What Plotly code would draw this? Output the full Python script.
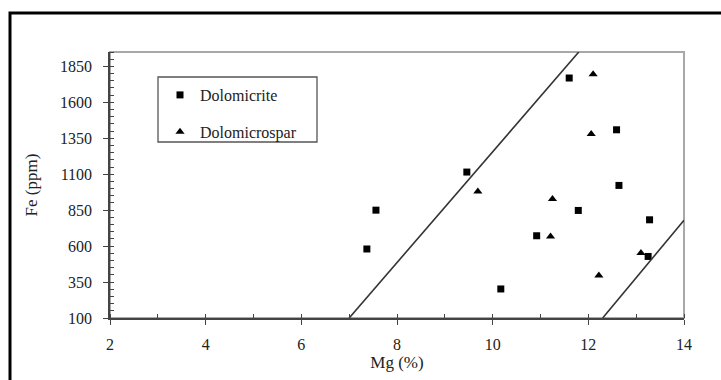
import plotly.graph_objects as go

# Data
dolomicrite_mg = [7.37, 7.56, 9.46, 10.17, 10.92, 11.60, 11.79, 12.59, 12.64, 13.28, 13.25]
dolomicrite_fe = [580, 850, 1115, 302, 672, 1769, 848, 1409, 1022, 783, 528]
dolomicrospar_mg = [9.69, 11.25, 11.21, 12.10, 12.06, 13.10, 12.22]
dolomicrospar_fe = [980, 927, 667, 1795, 1380, 552, 396]
boundary1_mg = [7.0, 11.8]
boundary1_fe = [100, 1950]
boundary2_mg = [12.3, 14.0]
boundary2_fe = [100, 780]
x_ticks = [2, 4, 6, 8, 10, 12, 14]
y_ticks = [100, 350, 600, 850, 1100, 1350, 1600, 1850]

W, H = 721, 380
L, R, T, B = 110, 37, 52, 62
pw, ph = W - L - R, H - T - B

def px_x(p):
    return (p - L) / pw

def px_y(p):
    return (H - B - p) / ph

FONT = "Liberation Serif, Times New Roman, serif"
TXT = "#222222"

fig = go.Figure()
fig.add_trace(go.Scatter(x=boundary1_mg, y=boundary1_fe, mode="lines", xaxis="x2", yaxis="y2",
                         line=dict(color="#333333", width=1.6), showlegend=False, hoverinfo="skip"))
fig.add_trace(go.Scatter(x=boundary2_mg, y=boundary2_fe, mode="lines", xaxis="x2", yaxis="y2",
                         line=dict(color="#333333", width=1.6), showlegend=False, hoverinfo="skip"))
fig.add_trace(go.Scatter(x=dolomicrite_mg, y=dolomicrite_fe, mode="markers", name="Dolomicrite",
                         legendgroup="a",
                         marker=dict(symbol="square", size=7, color="black")))
fig.add_trace(go.Scatter(x=dolomicrospar_mg, y=dolomicrospar_fe, mode="markers", name="Dolomicrospar",
                         legendgroup="b",
                         marker=dict(symbol="triangle-up", size=8, color="black")))

axis_common = dict(showgrid=False, zeroline=False, linecolor="#444444", linewidth=1.5,
                   tickcolor="#444444", tickwidth=1.2,
                   tickfont=dict(family=FONT, size=16, color=TXT))

fig.update_layout(
    width=W, height=H,
    margin=dict(l=L, r=R, t=T, b=B),
    font=dict(family=FONT, color=TXT),
    paper_bgcolor="white", plot_bgcolor="white",
    xaxis=dict(range=[2, 14], tickvals=x_ticks, ticks="outside", ticklen=5,
               ticklabelstandoff=6,
               minor=dict(ticks="inside", ticklen=4, dtick=1, tick0=2, tickcolor="#444444", showgrid=False),
               title=dict(text="Mg (%)", font=dict(family=FONT, size=17, color=TXT), standoff=0),
               **axis_common),
    yaxis=dict(range=[100, 1950], tickvals=y_ticks, ticks="outside", ticklen=5,
               ticklabelstandoff=8,
               minor=dict(ticks="inside", ticklen=4, dtick=50, tick0=100, tickcolor="#444444", showgrid=False),
               title=dict(text="Fe (ppm)", font=dict(family=FONT, size=17, color=TXT), standoff=18),
               **axis_common),
    xaxis2=dict(matches="x", overlaying="x", anchor="y", side="bottom", range=[2, 14],
                tickvals=x_ticks, ticks="inside", ticklen=4, tickcolor="#444444", tickwidth=1.2,
                showticklabels=False, showgrid=False, zeroline=False, showline=False),
    yaxis2=dict(matches="y", overlaying="y", anchor="x", side="left", range=[100, 1950],
                tickvals=y_ticks, ticks="inside", ticklen=4, tickcolor="#444444", tickwidth=1.2,
                showticklabels=False, showgrid=False, zeroline=False, showline=False),
    legend=dict(x=px_x(160), y=px_y(78), xanchor="left", yanchor="top",
                bgcolor="rgba(0,0,0,0)", borderwidth=0,
                font=dict(family=FONT, size=16, color=TXT),
                traceorder="grouped", tracegroupgap=13, itemwidth=30),
    showlegend=True,
    shapes=[
        dict(type="rect", xref="paper", yref="paper", x0=0, y0=0, x1=1, y1=1,
             line=dict(color="#a8a8a8", width=2), layer="below"),
        dict(type="rect", xref="paper", yref="paper", x0=px_x(158), x1=px_x(317),
             y0=px_y(142), y1=px_y(77), line=dict(color="#555555", width=1.3),
             fillcolor="white", layer="below"),
        dict(type="rect", xref="paper", yref="paper", x0=px_x(10), x1=px_x(740),
             y0=px_y(400), y1=px_y(13), line=dict(color="black", width=3)),
    ],
)

fig.write_html("out.html", config={"displayModeBar": False},
               post_script="document.body.style.margin='0';")
